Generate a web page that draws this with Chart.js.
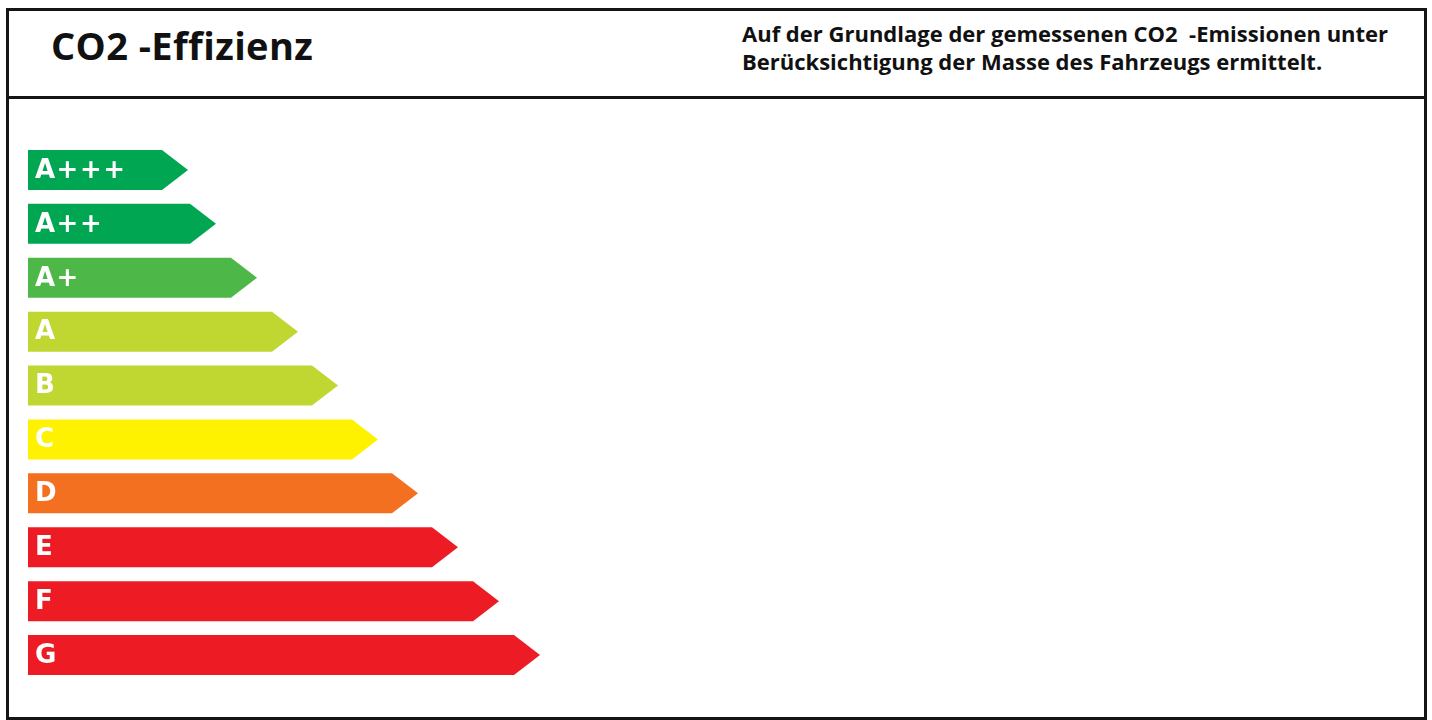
<!DOCTYPE html>
<html>
<head>
<meta charset="utf-8">
<script src="https://cdn.jsdelivr.net/npm/chart.js@4.4.1/dist/chart.umd.min.js"></script>
<style>
  html, body { margin: 0; padding: 0; background: #ffffff; }
  body { width: 1432px; height: 720px; position: relative; overflow: hidden; }
  #frame { position: absolute; left: 6px; top: 8px; width: 1421px; height: 712px; box-sizing: border-box; border: 3px solid #151515; }
  #divider { position: absolute; left: 6px; top: 96px; width: 1421px; height: 3px; background: #151515; }
  #title { position: absolute; left: 51px; top: 19px; font-family: "Open Sans", sans-serif; font-weight: 700; font-size: 38px; letter-spacing: 0.4px; color: #111; line-height: 52px; white-space: pre; }
  #note { position: absolute; left: 742px; top: 19px; font-family: "Open Sans", sans-serif; font-weight: 700; font-size: 22px; color: #111; line-height: 28px; white-space: pre; }
  #wrap { position: absolute; left: 0; top: 0; width: 1432px; height: 720px; }
</style>
</head>
<body>
<div id="frame"></div>
<div id="divider"></div>
<div id="title">CO2 -Effizienz</div>
<div id="note">Auf der Grundlage der gemessenen CO2  -Emissionen unter
Berücksichtigung der Masse des Fahrzeugs ermittelt.</div>
<div id="wrap"><canvas id="c" width="1432" height="720"></canvas></div>
<script>
// Efficiency classes (top to bottom)
const classes = ["A+++", "A++", "A+", "A", "B", "C", "D", "E", "F", "G"];
// Arrow lengths (arbitrary units)
const arrowLength = [16.0, 18.8, 22.9, 27.0, 31.0, 35.0, 39.0, 43.0, 47.1, 51.2];
// Class colours
const classColors = ["#00a651", "#00a651", "#4db848", "#bfd730", "#bfd730", "#fff200", "#f37021", "#ed1c24", "#ed1c24", "#ed1c24"];

const arrowPlugin = {
  id: "arrowBars",
  beforeDatasetsDraw(chart) {
    const ctx = chart.ctx;
    const meta = chart.getDatasetMeta(0);
    ctx.save();
    meta.data.forEach((bar, i) => {
      const p = bar.getProps(["x", "y", "base", "height"], true);
      const h = p.height;
      const top = p.y - h / 2, bottom = p.y + h / 2;
      const tip = h * 0.65;
      ctx.beginPath();
      ctx.moveTo(p.base, top);
      ctx.lineTo(p.x - tip, top);
      ctx.lineTo(p.x, p.y);
      ctx.lineTo(p.x - tip, bottom);
      ctx.lineTo(p.base, bottom);
      ctx.closePath();
      ctx.fillStyle = classColors[i];
      ctx.fill();
      ctx.fillStyle = "#ffffff";
      ctx.font = "bold 26px 'DejaVu Sans', sans-serif";
      if ("letterSpacing" in ctx) ctx.letterSpacing = "1.5px";
      ctx.textBaseline = "middle";
      ctx.textAlign = "left";
      ctx.fillText(chart.data.labels[i], p.base + 7, p.y + 1);
    });
    ctx.restore();
    return false;
  }
};

new Chart(document.getElementById("c"), {
  type: "bar",
  data: {
    labels: classes,
    datasets: [{
      data: arrowLength,
      backgroundColor: classColors,
      borderWidth: 0,
      barThickness: 40
    }]
  },
  options: {
    indexAxis: "y",
    responsive: false,
    animation: false,
    layout: { padding: { left: 28, top: 143, right: 404, bottom: 38 } },
    plugins: { legend: { display: false }, tooltip: { enabled: false }, title: { display: false } },
    scales: {
      x: { display: false, min: 0, max: 100 },
      y: { display: false, offset: true, grid: { display: false } }
    }
  },
  plugins: [arrowPlugin]
});
</script>
</body>
</html>
